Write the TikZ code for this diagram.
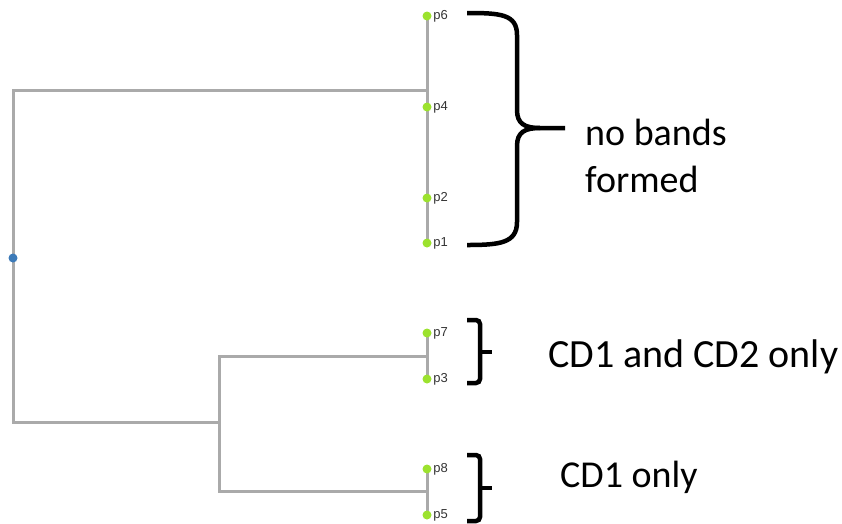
\documentclass[tikz,border=0pt]{standalone}
\usepackage{fontspec}
\setmainfont{Carlito}
\newfontfamily\leaffont{Liberation Sans}
\usetikzlibrary{calc}

\definecolor{branchgray}{HTML}{AAAAAA}
\definecolor{leafgreen}{HTML}{9CE22E}
\definecolor{rootblue}{HTML}{3C7AB8}

\begin{document}
\begin{tikzpicture}[x=1pt, y=-1pt,
branch/.style={draw=branchgray, line width=3pt},
leaf/.style={circle, fill=leafgreen, inner sep=0pt, minimum size=9pt},
leaflabel/.style={font=\leaffont\fontsize{13}{13}\selectfont, text=black!80, inner sep=0pt},
bracket/.style={draw=black, line width=4.5pt, line cap=butt},
note/.style={font=\fontsize{38}{47}\selectfont, inner sep=0pt, align=left}]
\useasboundingbox (0,0) rectangle (842,523);

\coordinate (root) at (13,258);
\coordinate (top) at (427,90);
\coordinate (low) at (219,422);
\coordinate (lowa) at (427,356);
\coordinate (lowb) at (427,491);
\coordinate (p6) at (427,16);
\coordinate (p4) at (427,107);
\coordinate (p2) at (427,198);
\coordinate (p1) at (427,243);
\coordinate (p7) at (427,333);
\coordinate (p3) at (427,379);
\coordinate (p8) at (427,469);
\coordinate (p5) at (427,515);

\draw[branch] (p6) -- (p1);
\draw[branch] (p7) -- (p3);
\draw[branch] (p8) -- (p5);
\draw[branch] (top) -| (root) |- (low);
\draw[branch] (lowa) -| (low) |- (lowb);

\node[circle, fill=rootblue, inner sep=0pt, minimum size=9pt] (rootdot) at (root) {};
\foreach \p in {p6, p4, p2, p1, p7, p3, p8, p5}
  \node[leaf, label={[leaflabel, label distance=1.5pt]right:\p}] (\p dot) at (\p) {};

\draw[bracket] (467,13) .. controls (500,13) and (517,14) .. (517,35) -- (517,110) .. controls (517,124) and (525,128) .. (540,128) -- (565,128);
\draw[bracket] (540,128) .. controls (525,128) and (517,132) .. (517,146) -- (517,222) .. controls (517,243) and (500,245) .. (467,245);
\draw[bracket, rounded corners=4pt] (467,320) -- (480,320) -- (480,383) -- (467,383);
\draw[bracket] (480,352) -- (492,352);
\draw[bracket, rounded corners=4pt] (467,455) -- (480,455) -- (480,521) -- (467,521);
\draw[bracket] (480,488) -- (492,488);

\node[note, anchor=base west] (nobands) at (585,192) {no bands\\formed};
\node[note, anchor=base west, font=\fontsize{40}{47}\selectfont] (cdboth) at (548,367) {CD1 and CD2 only};
\node[note, anchor=base west] (cdone) at (560,487) {CD1 only};
\end{tikzpicture}
\end{document}
